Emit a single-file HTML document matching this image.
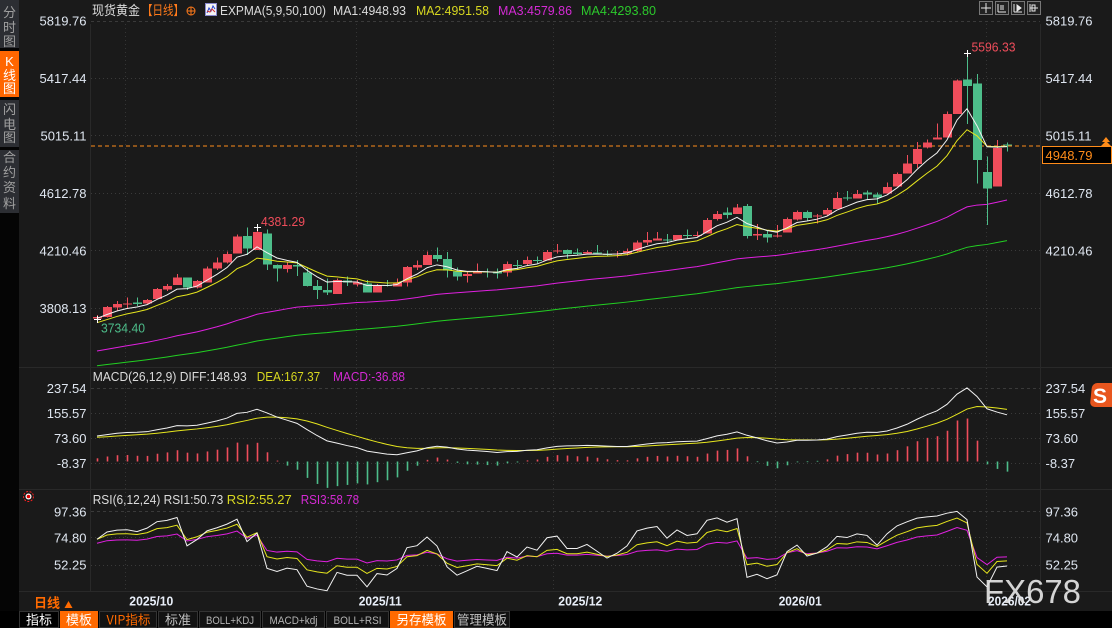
<!DOCTYPE html>
<html><head><meta charset="utf-8">
<style>
html,body{margin:0;padding:0;background:#1a1a1a;overflow:hidden;}
svg{display:block;}
text{font-family:"Liberation Sans","Noto Sans CJK SC",sans-serif;}
.ax{font-size:13px;fill:#dfe6f0;}
.cj{font-family:"Noto Sans CJK SC","WenQuanYi Zen Hei",sans-serif;}
</style></head><body>
<svg id="s" width="1112" height="628" viewBox="0 0 1112 628" xmlns="http://www.w3.org/2000/svg">
<rect x="0" y="0" width="1112" height="628" fill="#1a1a1a"/>
<!-- left sidebar -->
<rect x="0" y="0" width="19" height="628" fill="#050505"/>
<rect x="0" y="0" width="19" height="48" fill="#2c2e33"/>
<rect x="0" y="51" width="19" height="46" fill="#ff6600"/>
<rect x="0" y="100" width="19" height="47" fill="#2c2e33"/>
<rect x="0" y="150" width="19" height="63" fill="#2c2e33"/>
<g class="cj" font-size="13" text-anchor="middle" fill="#a0a0a0">
<text x="9.5" y="17">分</text><text x="9.5" y="32">时</text><text x="9.5" y="46">图</text>
<text x="9.5" y="66" fill="#fff">K</text><text x="9.5" y="80" fill="#fff">线</text><text x="9.5" y="93" fill="#fff">图</text>
<text x="9.5" y="114">闪</text><text x="9.5" y="129">电</text><text x="9.5" y="142">图</text>
<text x="9.5" y="162">合</text><text x="9.5" y="177">约</text><text x="9.5" y="192">资</text><text x="9.5" y="208">料</text>
</g>

<!-- separators -->
<g stroke="#292929" stroke-width="1">
<line x1="19" y1="367.5" x2="1112" y2="367.5"/>
<line x1="19" y1="489.5" x2="1112" y2="489.5"/>
<line x1="19" y1="591.5" x2="1112" y2="591.5"/>
<line x1="90.5" y1="24" x2="90.5" y2="591"/>
<line x1="1040.5" y1="24" x2="1040.5" y2="591"/>
</g>

<!-- horizontal grid -->
<g fill="none" stroke="#3a3a3a" stroke-width="1">
<line x1="91" y1="21.5" x2="1040" y2="21.5" stroke-dasharray="3,3"/>
<line x1="91" y1="78.5" x2="1040" y2="78.5" stroke-dasharray="1,3"/>
<line x1="91" y1="135.5" x2="1040" y2="135.5" stroke-dasharray="1,3"/>
<line x1="91" y1="193.5" x2="1040" y2="193.5" stroke-dasharray="1,3"/>
<line x1="91" y1="250.5" x2="1040" y2="250.5" stroke-dasharray="1,3"/>
<line x1="91" y1="308.5" x2="1040" y2="308.5" stroke-dasharray="1,3"/>
<line x1="91" y1="388.5" x2="1040" y2="388.5" stroke-dasharray="3,3"/>
<line x1="91" y1="413.5" x2="1040" y2="413.5" stroke-dasharray="1,3"/>
<line x1="91" y1="438.5" x2="1040" y2="438.5" stroke-dasharray="1,3"/>
<line x1="91" y1="463.5" x2="1040" y2="463.5" stroke-dasharray="1,3"/>
<line x1="91" y1="511.5" x2="1040" y2="511.5" stroke-dasharray="3,3"/>
<line x1="91" y1="537.5" x2="1040" y2="537.5" stroke-dasharray="1,3"/>
<line x1="91" y1="565.5" x2="1040" y2="565.5" stroke-dasharray="1,3"/>
</g>
<!-- vertical grid -->
<g fill="none" stroke="#353535" stroke-width="1" stroke-dasharray="1,3">
<line x1="125.5" y1="24" x2="125.5" y2="591"/>
<line x1="356.5" y1="24" x2="356.5" y2="591"/>
<line x1="553.5" y1="24" x2="553.5" y2="591"/>
<line x1="775.5" y1="24" x2="775.5" y2="591"/>
<line x1="986.5" y1="24" x2="986.5" y2="591"/>
</g>

<!-- header -->
<g font-size="13">
<text x="92" y="15" class="cj" fill="#dcdcdc" textLength="48" lengthAdjust="spacingAndGlyphs">现货黄金</text>
<text x="142" y="15" class="cj" fill="#ff7a1a" textLength="42" lengthAdjust="spacingAndGlyphs">【日线】</text>
<text x="220" y="15" fill="#dcdcdc" textLength="106" lengthAdjust="spacingAndGlyphs">EXPMA(5,9,50,100)</text>
<text x="333" y="15" fill="#dcdcdc" textLength="73" lengthAdjust="spacingAndGlyphs">MA1:4948.93</text>
<text x="416" y="15" fill="#d8d820" textLength="73" lengthAdjust="spacingAndGlyphs">MA2:4951.58</text>
<text x="498" y="15" fill="#d42ad4" textLength="74" lengthAdjust="spacingAndGlyphs">MA3:4579.86</text>
<text x="581" y="15" fill="#2cc82c" textLength="75" lengthAdjust="spacingAndGlyphs">MA4:4293.80</text>
</g>
<g stroke="#ff7a1a" fill="none" stroke-width="1">
<circle cx="191" cy="11" r="4"/><line x1="187" y1="11" x2="195" y2="11"/><line x1="191" y1="7" x2="191" y2="15"/>
</g>
<rect x="205.5" y="3.5" width="11" height="12" fill="#f4f4f4" stroke="#8888cc"/>
<polyline points="207,13 209,8 211,11 213,6 215,9" fill="none" stroke="#2040d0" stroke-width="1"/>
<polyline points="207,11 210,12 212,9 215,12" fill="none" stroke="#d03030" stroke-width="1"/>

<!-- top right tool icons -->
<g stroke="#777" fill="#222">
<rect x="979.5" y="1.5" width="13" height="13"/>
<rect x="995.5" y="1.5" width="13" height="13"/>
<rect x="1011.5" y="1.5" width="13" height="13"/>
<rect x="1027.5" y="1.5" width="13" height="13"/>
</g>
<g stroke="#e8e8e8" stroke-width="1" fill="none">
<line x1="986" y1="3" x2="986" y2="13"/><line x1="981" y1="8" x2="991" y2="8"/>
<line x1="998" y1="4" x2="998" y2="12"/><line x1="998" y1="12" x2="1006" y2="12"/><line x1="1001" y1="5" x2="1001" y2="10"/><line x1="1003" y1="5" x2="1003" y2="10"/>
<line x1="1014" y1="4" x2="1014" y2="12"/><line x1="1014" y1="12" x2="1022" y2="12"/><polygon points="1017,5 1017,11 1021,8" fill="#e8e8e8"/>
<line x1="1030" y1="4" x2="1030" y2="12"/><line x1="1030" y1="8" x2="1038" y2="8"/><rect x="1032" y="5" width="3" height="6"/>
</g>

<!-- left axis labels -->
<g class="ax" text-anchor="end">
<text x="86.5" y="25.5">5819.76</text>
<text x="86.5" y="83">5417.44</text>
<text x="86.5" y="140.5">5015.11</text>
<text x="86.5" y="198">4612.78</text>
<text x="86.5" y="255.5">4210.46</text>
<text x="86.5" y="313">3808.13</text>
<text x="86.5" y="393">237.54</text>
<text x="86.5" y="418">155.57</text>
<text x="86.5" y="443">73.60</text>
<text x="86.5" y="468">-8.37</text>
<text x="86.5" y="516.5">97.36</text>
<text x="86.5" y="542.5">74.80</text>
<text x="86.5" y="569.5">52.25</text>
</g>
<!-- right axis labels -->
<g class="ax">
<text x="1045.5" y="25.5">5819.76</text>
<text x="1045.5" y="83">5417.44</text>
<text x="1045.5" y="140.5">5015.11</text>
<text x="1045.5" y="198">4612.78</text>
<text x="1045.5" y="255.5">4210.46</text>
<text x="1045.5" y="393">237.54</text>
<text x="1045.5" y="418">155.57</text>
<text x="1045.5" y="443">73.60</text>
<text x="1045.5" y="468">-8.37</text>
<text x="1045.5" y="516.5">97.36</text>
<text x="1045.5" y="542.5">74.80</text>
<text x="1045.5" y="569.5">52.25</text>
</g>

<!-- current price -->
<line x1="91" y1="146" x2="1042" y2="146" stroke="#ff8c1a" stroke-width="1" stroke-dasharray="4,3"/>
<rect x="1042.5" y="146.5" width="69" height="17" fill="#000" stroke="#ff8c1a"/>
<text x="1045.5" y="160" font-size="13" fill="#ff8c1a">4948.79</text>
<polygon points="1106,137 1102,142 1110,142" fill="#ff8c1a"/>
<polygon points="1106,141 1101,146 1111,146" fill="#ff8c1a"/>

<g id="dyn"></g>

<!-- annotations -->
<text x="971.5" y="51.5" font-size="13" fill="#ef4d5b" textLength="44" lengthAdjust="spacingAndGlyphs">5596.33</text>
<text x="261" y="226" font-size="13" fill="#ef4d5b" textLength="44" lengthAdjust="spacingAndGlyphs">4381.29</text>
<text x="101" y="332.5" font-size="13" fill="#4dbd8a" textLength="44" lengthAdjust="spacingAndGlyphs">3734.40</text>
<g stroke="#ffffff" stroke-width="1">
<line x1="964" y1="53.5" x2="971" y2="53.5"/><line x1="967.5" y1="50" x2="967.5" y2="57"/>
<line x1="254" y1="227.5" x2="261" y2="227.5"/><line x1="257.5" y1="224" x2="257.5" y2="231"/>
<line x1="94" y1="319.5" x2="101" y2="319.5"/><line x1="97.5" y1="316" x2="97.5" y2="323"/>
</g>

<!-- MACD header -->
<g font-size="13">
<text x="92.7" y="381" fill="#dcdcdc" textLength="154" lengthAdjust="spacingAndGlyphs">MACD(26,12,9) DIFF:148.93</text>
<text x="256.7" y="381" fill="#d8d820" textLength="63.5" lengthAdjust="spacingAndGlyphs">DEA:167.37</text>
<text x="333" y="381" fill="#d42ad4" textLength="72" lengthAdjust="spacingAndGlyphs">MACD:-36.88</text>
<text x="92.7" y="504" fill="#dcdcdc" textLength="130.6" lengthAdjust="spacingAndGlyphs">RSI(6,12,24) RSI1:50.73</text>
<text x="226.7" y="504" fill="#d8d820" textLength="65" lengthAdjust="spacingAndGlyphs">RSI2:55.27</text>
<text x="300.7" y="504" fill="#d42ad4" textLength="58.5" lengthAdjust="spacingAndGlyphs">RSI3:58.78</text>
</g>

<!-- bullseye icon -->
<g>
<circle cx="28.5" cy="496.5" r="5" fill="none" stroke="#ff2020" stroke-width="1" stroke-dasharray="2,1.5"/>
<circle cx="28.5" cy="496.5" r="3" fill="#ffffff"/>
<circle cx="28.5" cy="496.5" r="1.8" fill="#e00000"/>
</g>

<!-- S logo -->
<g>
<rect x="1091" y="383" width="28" height="24" rx="5" fill="#e8561e" transform="skewX(-6)" transform-origin="1100 395"/>
<text x="1093" y="403" font-size="21" font-weight="bold" fill="#ffffff">S</text>
</g>

<!-- date labels -->
<g font-size="12.5" font-weight="bold" fill="#e8eef8">
<text x="129.3" y="605.5" textLength="44" lengthAdjust="spacingAndGlyphs">2025/10</text>
<text x="358.7" y="605.5" textLength="43" lengthAdjust="spacingAndGlyphs">2025/11</text>
<text x="558.3" y="605.5" textLength="44" lengthAdjust="spacingAndGlyphs">2025/12</text>
<text x="778.7" y="605.5" textLength="43" lengthAdjust="spacingAndGlyphs">2026/01</text>
<text x="988" y="605.5" textLength="43" lengthAdjust="spacingAndGlyphs">2026/02</text>
</g>
<text x="34" y="607.5" class="cj" font-size="13" font-weight="bold" fill="#ff6a00">日线</text>
<polygon points="68.5,601 64.5,608 72.5,608" fill="#ff6a00"/>

<!-- watermark -->
<text x="984" y="603" font-size="33" fill="#e4e4e4" fill-opacity="0.92" textLength="97" lengthAdjust="spacingAndGlyphs">FX678</text>

<!-- bottom toolbar -->
<rect x="0" y="611" width="1112" height="17" fill="#000"/>
<g stroke="#333" stroke-width="1">
<rect x="19.5" y="611.5" width="39" height="16" fill="#000"/>
<rect x="60.5" y="611.5" width="37" height="16" fill="#ff6a00" stroke="#ff6a00"/>
<rect x="99.5" y="611.5" width="57" height="16" fill="#121212"/>
<rect x="158.5" y="611.5" width="39" height="16" fill="#121212"/>
<rect x="199.5" y="611.5" width="61" height="16" fill="#121212"/>
<rect x="262.5" y="611.5" width="62" height="16" fill="#121212"/>
<rect x="326.5" y="611.5" width="62" height="16" fill="#121212"/>
<rect x="390.5" y="611.5" width="62" height="16" fill="#ff6a00" stroke="#ff6a00"/>
<rect x="454.5" y="611.5" width="55" height="16" fill="#121212"/>
</g>
<g font-size="13" text-anchor="middle">
<text x="39" y="624.5" class="cj" fill="#ffffff">指标</text>
<text x="79" y="624.5" class="cj" fill="#ffffff">模板</text>
<text x="128.5" y="624.5" class="cj" fill="#ff6a00" textLength="44" lengthAdjust="spacingAndGlyphs">VIP指标</text>
<text x="178" y="624.5" class="cj" fill="#c0c0c0">标准</text>
<text x="230" y="624" font-family="Liberation Mono" font-size="11" fill="#b4b4b4" textLength="48" lengthAdjust="spacingAndGlyphs">BOLL+KDJ</text>
<text x="293.5" y="624" font-family="Liberation Mono" font-size="11" fill="#b4b4b4" textLength="48" lengthAdjust="spacingAndGlyphs">MACD+kdj</text>
<text x="357.5" y="624" font-family="Liberation Mono" font-size="11" fill="#b4b4b4" textLength="48" lengthAdjust="spacingAndGlyphs">BOLL+RSI</text>
<text x="421.5" y="624.5" class="cj" fill="#ffffff" textLength="50" lengthAdjust="spacingAndGlyphs">另存模板</text>
<text x="482" y="624.5" class="cj" fill="#c0c0c0" textLength="50" lengthAdjust="spacingAndGlyphs">管理模板</text>
</g>
</svg>
<script>
(function(){
var D=[[1,317,318.5,315,319.5],[1,307,317,306,317.5],[1,304,307.5,301,311],[1,303.5,304.5,297.5,308],[0,302.5,304,297.5,306],
[1,300,303.5,299,304],[1,289,299,288,299],[1,286,289.5,284,291],[1,277.5,285,274,285],[0,277.5,287.5,277.5,290],
[1,281,287.5,280,288.5],[1,268.5,282.5,266.5,282.5],[1,262.5,268.5,257.5,270],[1,254,262.5,251.5,263.5],[1,236.5,253.5,234.5,253.5],
[0,236,248.5,227.5,255],[1,232,250,226.5,250],[0,233.5,264.5,229.5,270],[0,265,268.5,264.5,281.5],[1,265,269,261.5,272.5],
[0,265,266.5,260,276],[0,272.5,286,268.5,286.5],[0,286,290,280,299],[0,290,292.5,278.5,295],[1,280,294,278.5,294],
[0,280.5,282.5,276.5,286],[1,282.5,284.5,280,286.5],[0,283.5,292.5,280,292.5],[1,285,292.5,284,292.5],[0,285,286,280,286.5],
[1,282.5,286.5,278.5,286.5],[1,267,282.5,266,286.5],[1,265,267.5,260.5,270],[1,255,265,251.5,265],[0,255,259,247.5,261.5],
[0,259,270.5,252,277.5],[0,271.5,276.5,267.5,280.5],[1,274,276,271.5,282.5],[1,271.5,273.5,263.5,273.5],[0,271.5,272.5,268.5,277.5],
[0,271.5,273.5,268.5,278.5],[1,264,272.5,261.5,276.5],[0,265,266,260,270],[1,260,264,256.5,265],[0,260,261,256.5,263.5],
[1,252,260.5,250,260.5],[1,250.5,251.5,244,253.5],[0,250,254,249.5,258.5],[0,252.5,254,248.5,255],[1,252,253.5,250.5,254],
[0,252.5,253.5,245,254],[0,254,255,250.5,256],[1,253.5,254.5,251,257.5],[1,251,253.5,248.5,255.5],[1,242.5,251,240.5,251.5],
[1,240,242.5,232,245],[1,238.5,240.5,232,240.5],[0,239.5,240.5,234,243.5],[1,235,240,235,240],[0,235,236,229.5,238.5],
[1,235,236,231.5,236.5],[1,220,233.5,218,233.5],[1,214,219,211,220.5],[0,212.5,215,207.5,218.5],[1,207.5,214,204,214],
[0,206,236,204,238.5],[1,234,235.5,224,240],[0,234,237.5,230,242.5],[1,235.5,236.5,225,237.5],[1,219,232.5,217.5,232.5],
[1,212,219.5,210.5,220.5],[0,212,218,210.5,220.5],[1,215.5,216.5,214,223.5],[1,210,214.5,208,215.5],[1,198,209,192,209],
[0,197.5,198.5,191,200.5],[1,194,198.5,190,198.5],[0,192.5,194.5,190.5,199.5],[0,194.5,197.5,192.5,204],[1,187,193.5,182.5,193.5],
[1,174,186.5,172.5,186.5],[1,163.5,173.5,155,173.5],[1,149,164,142,168],[1,142.5,147.5,139.5,148.5],[1,137.5,139.5,123.5,139.5],
[1,114,137.5,111.5,137.5],[1,80.5,114,79.5,114],[0,79.5,86,53.5,124],[0,83.5,160,74,183.5],[0,172,188.5,156.5,225],
[1,148,186.5,140,186.5],[0,144.5,145.5,142.5,151.5]];
var NS="http://www.w3.org/2000/svg";
var g=document.getElementById('dyn');
function el(t,a){var e=document.createElementNS(NS,t);for(var k in a)e.setAttribute(k,a[k]);g.appendChild(e);return e;}
function X(i){return 97+10*i;}
var C=D.map(function(d){return d[0]?d[1]:d[2];});
function ema(arr,seed,n){var a=2/(n+1),e=seed,r=[e];for(var i=1;i<arr.length;i++){e=e+a*(arr[i]-e);r.push(e);}return r;}
function poly(ys,yf,color){var p=[];for(var i=0;i<ys.length;i++){p.push(X(i)+','+yf(ys[i]).toFixed(2));}
 el('polyline',{points:p.join(' '),fill:'none',stroke:color,'stroke-width':1});}
function id(v){return v;}
var RED='#ef4d5b',GRN='#4dbd8a';
// long MAs
poly(ema(C,351,50),id,'#e020e0');
poly(ema(C,365.7,100),id,'#22d022');
// candles
for(var i=0;i<D.length;i++){var d=D[i],col=d[0]?RED:GRN,x=X(i);
 el('line',{x1:x+0.5,y1:d[3],x2:x+0.5,y2:d[4],stroke:col,'stroke-width':1});
 var h=Math.max(1,d[2]-d[1]);
 el('rect',{x:x-4,y:d[1],width:9,height:h,fill:col});}
poly(ema(C,322.7,9),id,'#e6e61e');
poly(ema(C,318.3,5),id,'#f2f2f2');
// MACD
var P=C.map(function(y){return 5819.76-(y-21)/0.14267;});
var e12=P[0]-64,e26=P[0]-145,dea=77,DIF=[],DEA=[];
for(var i=0;i<P.length;i++){if(i>0){e12+=2/13*(P[i]-e12);e26+=2/27*(P[i]-e26);}
 var df=e12-e26;if(i>0)dea+=0.2*(df-dea);DIF.push(df);DEA.push(dea);}
function ym(v){return 460.75-v*0.305;}
for(var i=0;i<P.length;i++){var hv=2*(DIF[i]-DEA[i]),y0=461.5,y1=ym(hv);
 el('rect',{x:X(i)-0.3,y:Math.min(y0,y1),width:1.6,height:Math.max(0.8,Math.abs(y1-y0)),fill:hv>=0?RED:GRN});}
poly(DEA,ym,'#e6e61e');
poly(DIF,ym,'#f2f2f2');
// RSI
function rsi(n,seedR,abs){var up=seedR/100*abs,ab=abs,r=[seedR];
 for(var i=1;i<P.length;i++){var dd=P[i]-P[i-1];up=(Math.max(dd,0)+(n-1)*up)/n;ab=(Math.abs(dd)+(n-1)*ab)/n;r.push(ab>0?up/ab*100:50);}return r;}
function yr(v){return 511.7+(97.36-v)*1.18;}
poly(rsi(24,70.6,38),yr,'#e020e0');
poly(rsi(12,74,40),yr,'#e6e61e');
poly(rsi(6,74,45),yr,'#f2f2f2');
})();
</script>
</body></html>
